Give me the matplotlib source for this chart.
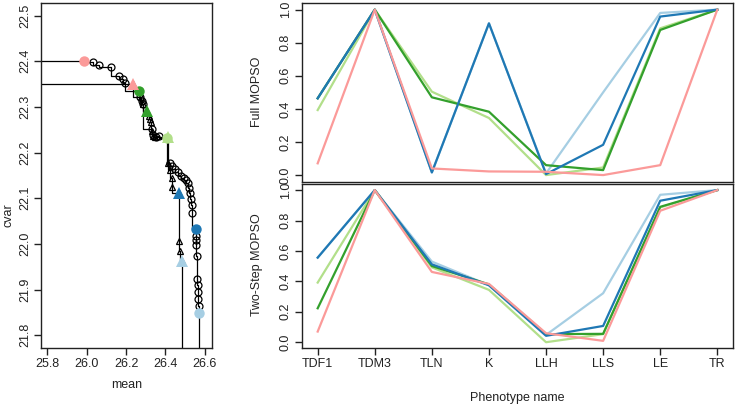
import matplotlib
matplotlib.use("Agg")
import matplotlib.pyplot as plt

plt.rcParams['font.family'] = ['Liberation Sans', 'DejaVu Sans']
plt.rcParams['font.size'] = 9

# Pareto front drawn with circles (mean, cvar)
circ_mean = [25.987, 26.032, 26.065, 26.126, 26.164, 26.187, 26.195, 26.264, 26.271,
             26.280, 26.286, 26.331, 26.337, 26.352, 26.369, 26.410, 26.424, 26.434,
             26.449, 26.464, 26.480, 26.495, 26.505, 26.515, 26.520, 26.525, 26.530,
             26.535, 26.537, 26.556, 26.556, 26.557, 26.558, 26.561, 26.562, 26.564,
             26.566, 26.568, 26.570, 26.571]
circ_cvar = [22.401, 22.399, 22.392, 22.388, 22.368, 22.361, 22.353, 22.336, 22.322,
             22.313, 22.306, 22.251, 22.239, 22.234, 22.236, 22.233, 22.177, 22.171,
             22.164, 22.157, 22.149, 22.144, 22.140, 22.134, 22.123, 22.112, 22.099,
             22.085, 22.068, 22.033, 22.018, 22.009, 21.998, 21.974, 21.923, 21.910,
             21.895, 21.880, 21.864, 21.849]
# indices of the coloured solutions on the circle front
circ_hi = [0, 7, 15, 29, 39]

# Pareto front drawn with triangles
tri_mean = [26.234, 26.277, 26.287, 26.305, 26.317, 26.322, 26.327, 26.332, 26.337,
            26.347, 26.413, 26.416, 26.424, 26.434, 26.436, 26.468, 26.472, 26.477,
            26.485]
tri_cvar = [22.350, 22.322, 22.306, 22.291, 22.280, 22.274, 22.267, 22.247, 22.236,
            22.234, 22.234, 22.177, 22.162, 22.144, 22.125, 22.112, 22.007, 21.985,
            21.963]
tri_hi = [0, 3, 10, 15, 18]

hi_colors = ['#FB9A99', '#33A02C', '#B2DF8A', '#1F78B4', '#A6CEE3']

phenotypes = ['TDF1', 'TDM3', 'TLN', 'K', 'LLH', 'LLS', 'LE', 'TR']

full_mopso = {
    '#A6CEE3': [0.464, 1.0, 0.016, 0.917, 0.010, 0.500, 0.980, 1.0],
    '#B2DF8A': [0.393, 1.0, 0.504, 0.345, 0.000, 0.046, 0.887, 1.0],
    '#33A02C': [0.464, 1.0, 0.470, 0.383, 0.060, 0.030, 0.877, 1.0],
    '#1F78B4': [0.464, 1.0, 0.016, 0.917, 0.006, 0.183, 0.958, 1.0],
    '#FB9A99': [0.071, 1.0, 0.040, 0.022, 0.020, 0.000, 0.060, 1.0],
}
two_step = {
    '#A6CEE3': [0.556, 1.0, 0.530, 0.375, 0.048, 0.322, 0.969, 1.0],
    '#B2DF8A': [0.392, 1.0, 0.492, 0.344, 0.000, 0.053, 0.886, 1.0],
    '#33A02C': [0.223, 1.0, 0.501, 0.380, 0.053, 0.055, 0.890, 1.0],
    '#1F78B4': [0.556, 1.0, 0.512, 0.374, 0.042, 0.107, 0.930, 1.0],
    '#FB9A99': [0.070, 1.0, 0.462, 0.383, 0.059, 0.009, 0.864, 1.0],
}

fig = plt.figure(figsize=(7.36, 4.07), dpi=100)
W, H = 736.0, 407.0

def box(x0, y0, x1, y1):
    return [x0 / W, 1 - y1 / H, (x1 - x0) / W, (y1 - y0) / H]

def style(ax):
    for s in ax.spines.values():
        s.set_linewidth(1.0)
        s.set_color('#222222')
    ax.tick_params(direction='out', length=5, width=1, colors='#222222', pad=2)
    for lab in ax.get_yticklabels():
        lab.set_rotation(90)
        lab.set_va('center')

# left: the two fronts
ax0 = fig.add_axes(box(40.7, 3.3, 211.7, 348))
xs = [25.0] + circ_mean + [circ_mean[-1]]
ys = [circ_cvar[0]] + circ_cvar + [21.0]
ax0.plot(xs, ys, drawstyle='steps-pre', color='black', lw=0.9)
xs = [25.0] + tri_mean + [tri_mean[-1]]
ys = [tri_cvar[0]] + tri_cvar + [21.0]
ax0.plot(xs, ys, drawstyle='steps-pre', color='black', lw=0.9)
ax0.plot(circ_mean, circ_cvar, 'o', mfc='none', mec='black', ms=5, mew=0.9)
ax0.plot(tri_mean, tri_cvar, '^', mfc='none', mec='black', ms=5, mew=0.9)
for i, c in zip(circ_hi, hi_colors):
    ax0.plot(circ_mean[i], circ_cvar[i], 'o', color=c, ms=7.5, mew=0)
for i, c in zip(tri_hi, hi_colors):
    ax0.plot(tri_mean[i], tri_cvar[i], '^', color=c, ms=8, mew=0)
ax0.set_xlim(25.766, 26.636)
ax0.set_ylim(21.772, 22.527)
ax0.set_xticks([25.8, 26.0, 26.2, 26.4, 26.6])
ax0.set_yticks([21.8, 21.9, 22.0, 22.1, 22.2, 22.3, 22.4, 22.5])
ax0.set_xticklabels(['25.8', '26.0', '26.2', '26.4', '26.6'])
ax0.set_yticklabels(['21.8', '21.9', '22.0', '22.1', '22.2', '22.3', '22.4', '22.5'])
style(ax0)
fig.text(9 / W, 1 - 215 / H, 'cvar', rotation=90, ha='center', va='center', color='#222222')
fig.text(127 / W, 1 - 385 / H, 'mean', ha='center', va='center', color='#222222')

# right: normalised phenotype values
xpos = list(range(1, len(phenotypes) + 1))
ax1 = fig.add_axes(box(301.7, 3, 733.3, 181.7))
ax2 = fig.add_axes(box(301.7, 184, 733.3, 348.3))
for ax, data in [(ax1, full_mopso), (ax2, two_step)]:
    for c, vals in data.items():
        ax.plot(xpos, vals, color=c, lw=1.6)
    ax.set_xlim(0.72, 8.28)
    ax.set_ylim(-0.04, 1.04)
    ax.set_yticks([0, 0.2, 0.4, 0.6, 0.8, 1.0])
    ax.set_yticklabels(['0.0', '0.2', '0.4', '0.6', '0.8', '1.0'])
    ax.set_xticks(xpos)
    style(ax)
ax1.tick_params(axis='x', bottom=False, labelbottom=False)
ax2.set_xticklabels(phenotypes)
for lab in ax2.get_yticklabels():
    lab.set_rotation(90)
    lab.set_va('center')

fig.text(257 / W, 1 - 92 / H, 'Full MOPSO', rotation=90, ha='center', va='center', color='#222222')
fig.text(257 / W, 1 - 265 / H, 'Two-Step MOPSO', rotation=90, ha='center', va='center', color='#222222')
fig.text(517 / W, 1 - 398 / H, 'Phenotype name', ha='center', va='center', color='#222222')

fig.savefig('out.png', dpi=100)
